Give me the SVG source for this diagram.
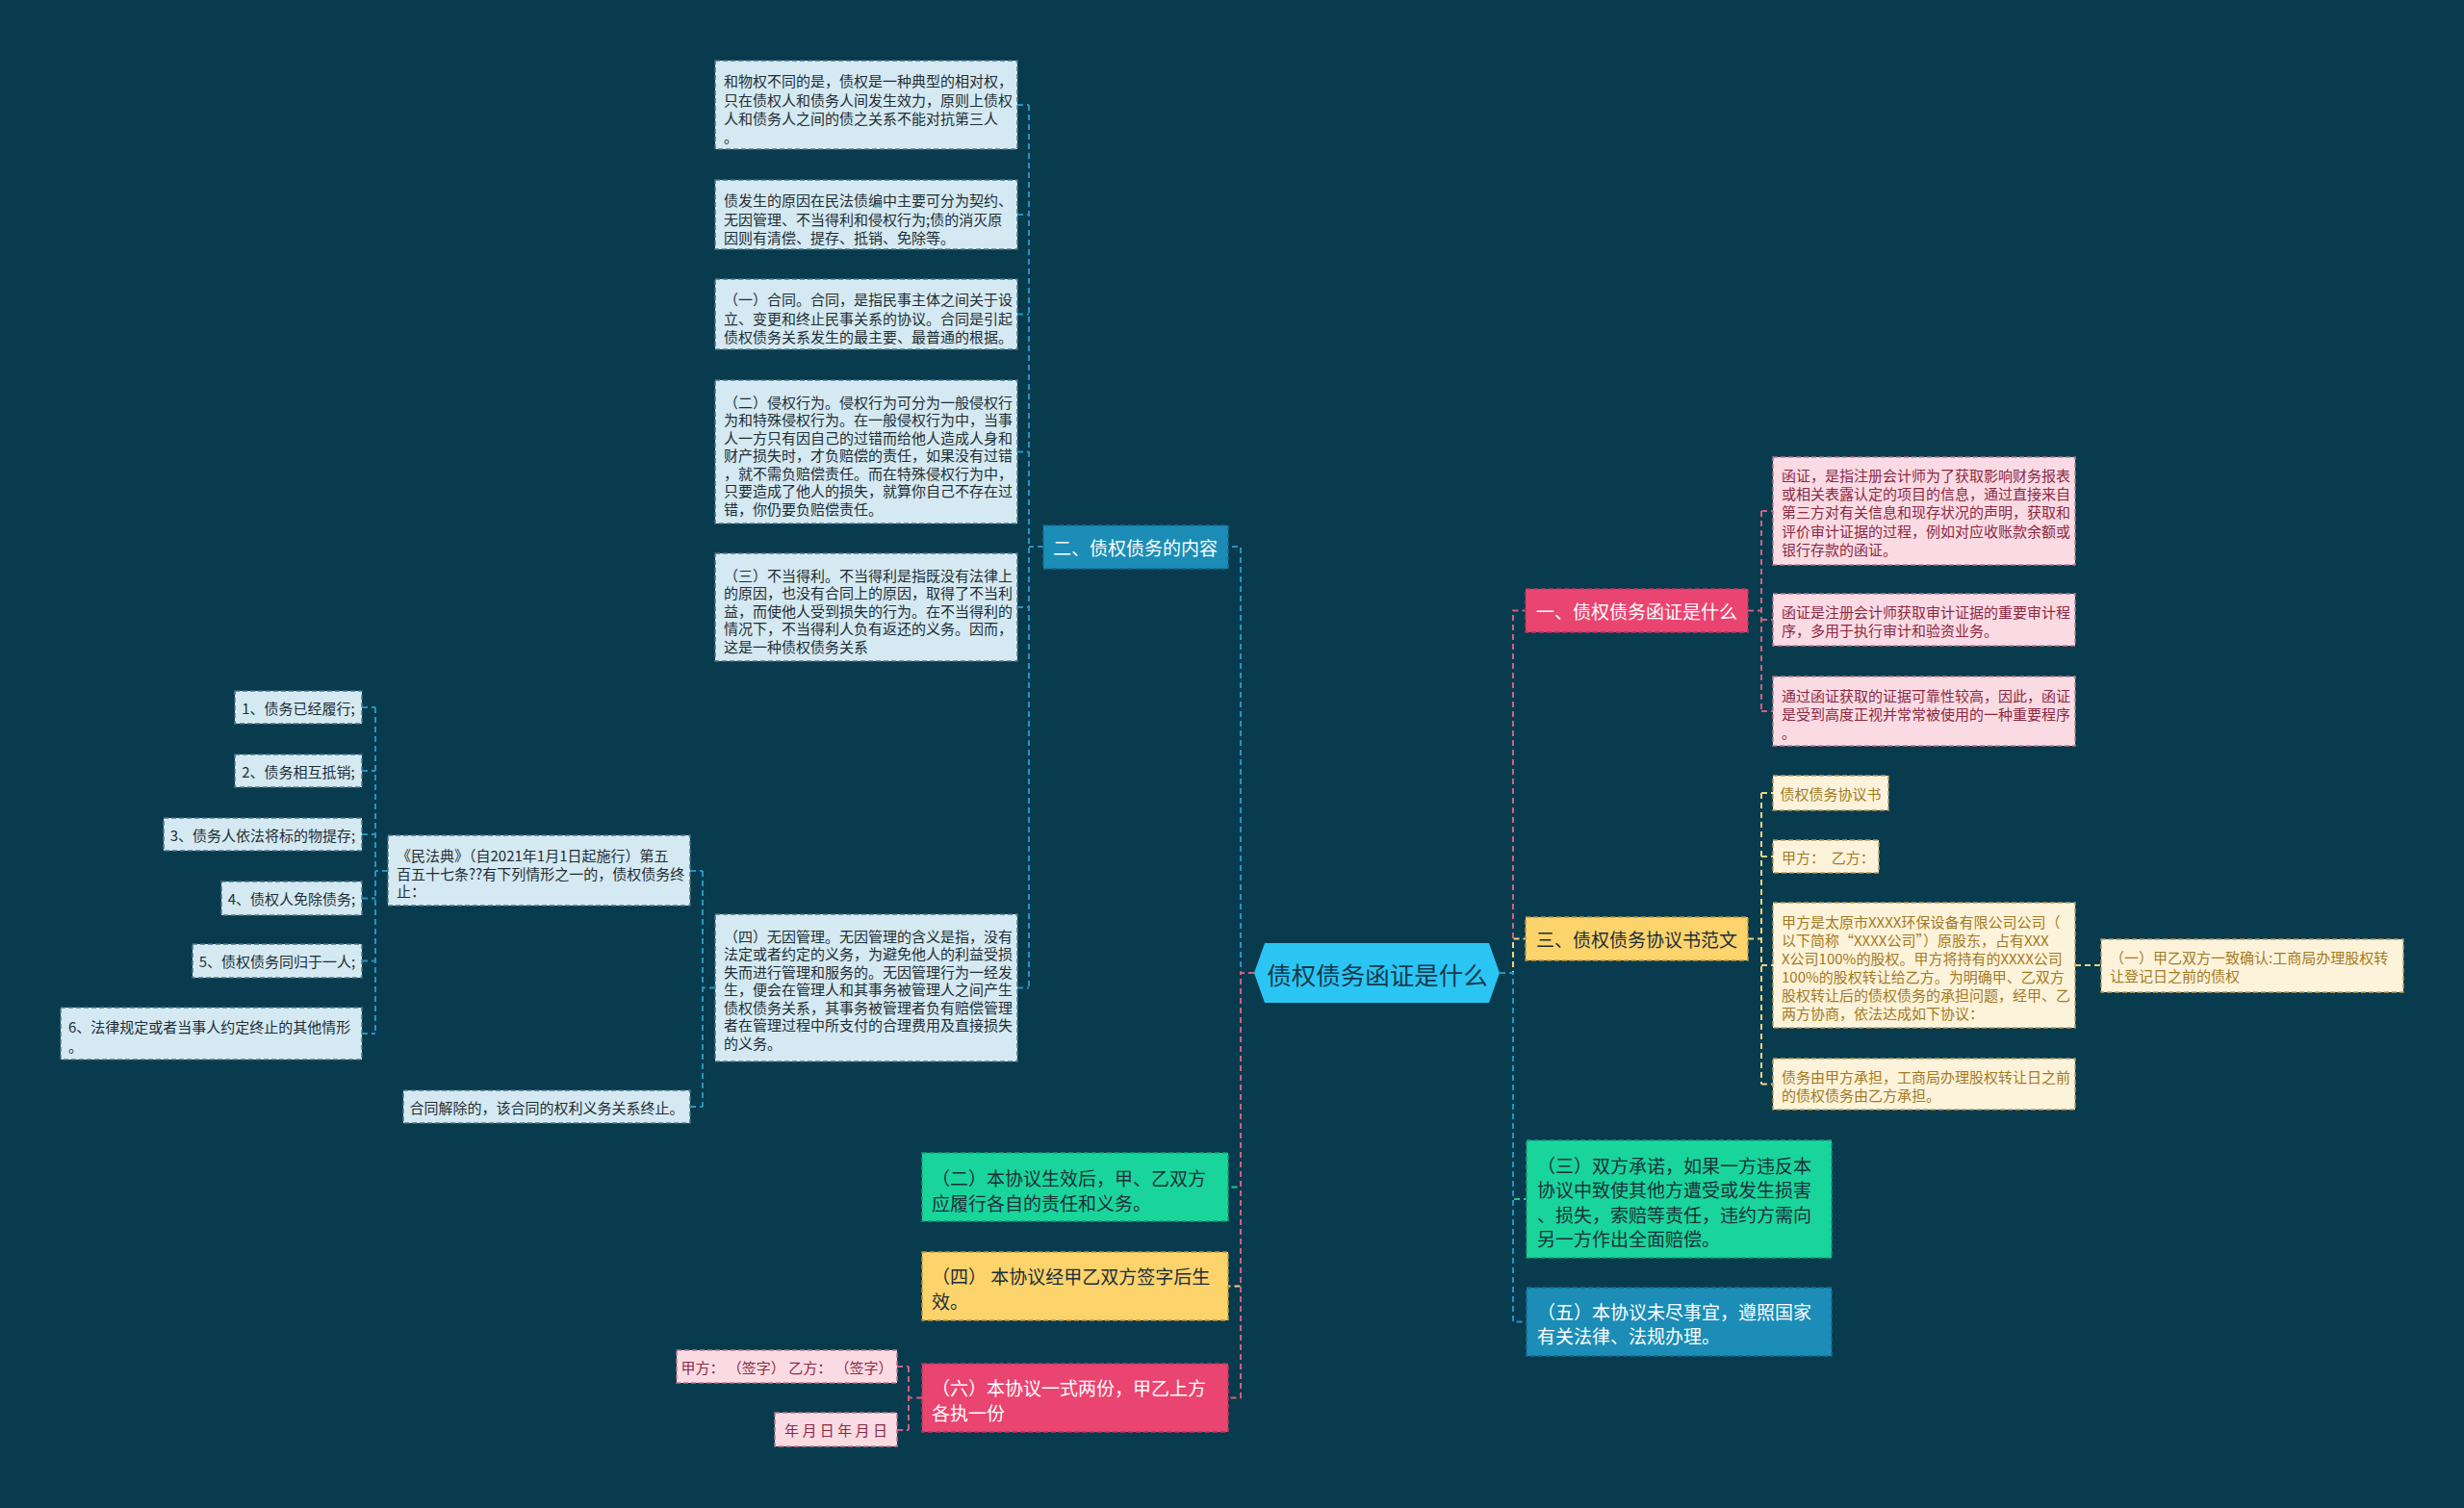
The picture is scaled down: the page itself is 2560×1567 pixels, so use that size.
<svg xmlns="http://www.w3.org/2000/svg" width="2560" height="1567" viewBox="0 0 2560 1567">
<style>
text{font-family:"Noto Sans CJK SC","Noto Sans",sans-serif;dominant-baseline:central}
.ln{fill:none;stroke-width:2;stroke-dasharray:6 4}
.lblue{stroke:#2595bd}
.lpink{stroke:#d0607f}
.lyel{stroke:#f2d27c}
.lgreen{stroke:#1ec99a}
.lb{fill:#d4e9f1;stroke:#4d7384;stroke-width:1.5;stroke-dasharray:5 3}
.lbt{fill:#1f2d35;font-size:15px}
.pk{fill:#fbdbe3;stroke:#b9788c;stroke-width:1.5;stroke-dasharray:5 3}
.pkt{fill:#8b2944;font-size:15px}
.cr{fill:#fdf3da;stroke:#b59a5e;stroke-width:1.5;stroke-dasharray:5 3}
.crt{fill:#a37a24;font-size:15px}
.nb{fill:#1b8db6;stroke:#146d8e;stroke-width:1.5;stroke-dasharray:5 3}
.np{fill:#ea4470;stroke:#b8355a;stroke-width:1.5;stroke-dasharray:5 3}
.ny{fill:#fdd36b;stroke:#b89640;stroke-width:1.5;stroke-dasharray:5 3}
.ng{fill:#19d59c;stroke:#139e76;stroke-width:1.5;stroke-dasharray:5 3}
.tw{fill:#ffffff;font-size:19px}
.td{fill:#1b2f38;font-size:19px}
</style>
<rect width="2560" height="1567" fill="#093b4f"/>

<g id="connectors">
  <path class="ln lblue" d="M1303,1011 H1289 V568 H1276"/>
  <path class="ln lblue" d="M1084,568 H1069 M1069,109 V1026.5 M1057,109 H1069 M1057,223 H1069 M1057,326.5 H1069 M1057,469.5 H1069 M1057,631 H1069 M1057,1026.5 H1069"/>
  <path class="ln lblue" d="M743,1026.5 H730 M730,905 V1150 M717,905 H730 M717,1150 H730"/>
  <path class="ln lblue" d="M403,905 H390 M390,735 V1074 M376,735 H390 M376,801 H390 M376,867 H390 M376,933.5 H390 M376,998.5 H390 M376,1074 H390"/>
  <path class="ln lgreen" d="M1303,1011 H1289 V1233.5 H1276"/>
  <path class="ln lyel" d="M1303,1011 H1289 V1336.5 H1276"/>
  <path class="ln lpink" d="M1303,1011 H1289 V1452.5 H1276"/>
  <path class="ln lpink" d="M958,1452.5 H944 M944,1420 V1486 M932,1420 H944 M932,1486 H944"/>
  <path class="ln lpink" d="M1558,1011 H1572 V634.5 H1585"/>
  <path class="ln lyel" d="M1558,1011 H1572 V975.5 H1585"/>
  <path class="ln lgreen" d="M1558,1011 H1572 V1246 H1586"/>
  <path class="ln lblue" d="M1558,1011 H1572 V1373.5 H1586"/>
  <path class="ln lpink" d="M1816,634.5 H1830 M1830,531 V739 M1830,531 H1842 M1830,644 H1842 M1830,739 H1842"/>
  <path class="ln lyel" d="M1816,975.5 H1830 M1830,824 V1126.5 M1830,824 H1842 M1830,890 H1842 M1830,1003 H1842 M1830,1126.5 H1842"/>
  <path class="ln lyel" d="M2156,1003 H2183"/>
</g>

<g id="center">
  <polygon points="1303,1011 1314,980 1547,980 1558,1011 1547,1042 1314,1042" fill="#2bc5f4"/>
  <text x="1431" y="1011" text-anchor="middle" font-size="25.5" fill="#123a4c">债权债务函证是什么</text>
</g>

<g id="n-er">
  <rect class="nb" x="1084" y="546" width="192" height="45"/>
  <text class="tw" x="1094" y="568.5">二、债权债务的内容</text>
</g>

<g id="n-b1">
  <rect class="lb" x="743" y="63" width="314" height="92"/>
  <text class="lbt" x="752" y="83">和物权不同的是，债权是一种典型的相对权，</text>
  <text class="lbt" x="752" y="103">只在债权人和债务人间发生效力，原则上债权</text>
  <text class="lbt" x="752" y="122">人和债务人之间的债之关系不能对抗第三人</text>
  <text class="lbt" x="752" y="141">。</text>
</g>
<g id="n-b2">
  <rect class="lb" x="743" y="187" width="314" height="72"/>
  <text class="lbt" x="752" y="207">债发生的原因在民法债编中主要可分为契约、</text>
  <text class="lbt" x="752" y="227">无因管理、不当得利和侵权行为;债的消灭原</text>
  <text class="lbt" x="752" y="246">因则有清偿、提存、抵销、免除等。</text>
</g>
<g id="n-b3">
  <rect class="lb" x="743" y="290" width="314" height="73"/>
  <text class="lbt" x="752" y="310">（一）合同。合同，是指民事主体之间关于设</text>
  <text class="lbt" x="752" y="330">立、变更和终止民事关系的协议。合同是引起</text>
  <text class="lbt" x="752" y="349">债权债务关系发生的最主要、最普通的根据。</text>
</g>
<g id="n-b4">
  <rect class="lb" x="743" y="395" width="314" height="149"/>
  <text class="lbt" x="752" y="417">（二）侵权行为。侵权行为可分为一般侵权行</text>
  <text class="lbt" x="752" y="435.5">为和特殊侵权行为。在一般侵权行为中，当事</text>
  <text class="lbt" x="752" y="454">人一方只有因自己的过错而给他人造成人身和</text>
  <text class="lbt" x="752" y="472.5">财产损失时，才负赔偿的责任，如果没有过错</text>
  <text class="lbt" x="752" y="491">，就不需负赔偿责任。而在特殊侵权行为中，</text>
  <text class="lbt" x="752" y="509.5">只要造成了他人的损失，就算你自己不存在过</text>
  <text class="lbt" x="752" y="528">错，你仍要负赔偿责任。</text>
</g>
<g id="n-b5">
  <rect class="lb" x="743" y="575" width="314" height="112"/>
  <text class="lbt" x="752" y="597">（三）不当得利。不当得利是指既没有法律上</text>
  <text class="lbt" x="752" y="615.5">的原因，也没有合同上的原因，取得了不当利</text>
  <text class="lbt" x="752" y="634">益，而使他人受到损失的行为。在不当得利的</text>
  <text class="lbt" x="752" y="652.5">情况下，不当得利人负有返还的义务。因而，</text>
  <text class="lbt" x="752" y="671">这是一种债权债务关系</text>
</g>
<g id="n-b6">
  <rect class="lb" x="743" y="950" width="314" height="153"/>
  <text class="lbt" x="752" y="972">（四）无因管理。无因管理的含义是指，没有</text>
  <text class="lbt" x="752" y="990.5">法定或者约定的义务，为避免他人的利益受损</text>
  <text class="lbt" x="752" y="1009">失而进行管理和服务的。无因管理行为一经发</text>
  <text class="lbt" x="752" y="1027.5">生，便会在管理人和其事务被管理人之间产生</text>
  <text class="lbt" x="752" y="1046">债权债务关系，其事务被管理者负有赔偿管理</text>
  <text class="lbt" x="752" y="1064.5">者在管理过程中所支付的合理费用及直接损失</text>
  <text class="lbt" x="752" y="1083">的义务。</text>
</g>
<g id="n-mfd">
  <rect class="lb" x="403" y="868" width="314" height="73"/>
  <text class="lbt" x="412" y="888">《民法典》（自2021年1月1日起施行）第五</text>
  <text class="lbt" x="412" y="907">百五十七条??有下列情形之一的，债权债务终</text>
  <text class="lbt" x="412" y="925">止：</text>
</g>
<g id="n-htjc">
  <rect class="lb" x="419" y="1133" width="298" height="34"/>
  <text class="lbt" x="568" y="1150" text-anchor="middle">合同解除的，该合同的权利义务关系终止。</text>
</g>
<g id="n-c1">
  <rect class="lb" x="244" y="718" width="132" height="34"/>
  <text class="lbt" x="310" y="735" text-anchor="middle">1、债务已经履行;</text>
</g>
<g id="n-c2">
  <rect class="lb" x="244" y="784" width="132" height="34"/>
  <text class="lbt" x="310" y="801" text-anchor="middle">2、债务相互抵销;</text>
</g>
<g id="n-c3">
  <rect class="lb" x="170" y="850" width="206" height="34"/>
  <text class="lbt" x="273" y="867" text-anchor="middle">3、债务人依法将标的物提存;</text>
</g>
<g id="n-c4">
  <rect class="lb" x="230" y="916" width="146" height="35"/>
  <text class="lbt" x="303" y="933.5" text-anchor="middle">4、债权人免除债务;</text>
</g>
<g id="n-c5">
  <rect class="lb" x="200" y="981" width="176" height="35"/>
  <text class="lbt" x="288" y="998.5" text-anchor="middle">5、债权债务同归于一人;</text>
</g>
<g id="n-c6">
  <rect class="lb" x="63" y="1047" width="313" height="54"/>
  <text class="lbt" x="71" y="1066">6、法律规定或者当事人约定终止的其他情形</text>
  <text class="lbt" x="71" y="1086">。</text>
</g>

<g id="n-yi">
  <rect class="np" x="1585" y="612" width="231" height="45"/>
  <text class="tw" x="1596" y="634.5">一、债权债务函证是什么</text>
</g>
<g id="n-p1">
  <rect class="pk" x="1842" y="475" width="314" height="112"/>
  <text class="pkt" x="1851" y="493">函证，是指注册会计师为了获取影响财务报表</text>
  <text class="pkt" x="1851" y="512">或相关表露认定的项目的信息，通过直接来自</text>
  <text class="pkt" x="1851" y="531.5">第三方对有关信息和现存状况的声明，获取和</text>
  <text class="pkt" x="1851" y="551">评价审计证据的过程，例如对应收账款余额或</text>
  <text class="pkt" x="1851" y="570">银行存款的函证。</text>
</g>
<g id="n-p2">
  <rect class="pk" x="1842" y="617" width="314" height="54"/>
  <text class="pkt" x="1851" y="635">函证是注册会计师获取审计证据的重要审计程</text>
  <text class="pkt" x="1851" y="654">序，多用于执行审计和验资业务。</text>
</g>
<g id="n-p3">
  <rect class="pk" x="1842" y="703" width="314" height="72"/>
  <text class="pkt" x="1851" y="722">通过函证获取的证据可靠性较高，因此，函证</text>
  <text class="pkt" x="1851" y="741">是受到高度正视并常常被使用的一种重要程序</text>
  <text class="pkt" x="1851" y="760">。</text>
</g>

<g id="n-san">
  <rect class="ny" x="1585" y="953" width="231" height="45"/>
  <text class="td" x="1596" y="975.5">三、债权债务协议书范文</text>
</g>
<g id="n-y1">
  <rect class="cr" x="1842" y="806" width="120" height="36"/>
  <text class="crt" x="1902" y="824" text-anchor="middle">债权债务协议书</text>
</g>
<g id="n-y2">
  <rect class="cr" x="1842" y="873" width="110" height="34"/>
  <text class="crt" x="1851" y="890" xml:space="preserve">甲方：  乙方：</text>
</g>
<g id="n-y3">
  <rect class="cr" x="1842" y="938" width="314" height="130"/>
  <text class="crt" x="1851" y="957">甲方是太原市XXXX环保设备有限公司公司（</text>
  <text class="crt" x="1851" y="976">以下简称“XXXX公司”）原股东，占有XXX</text>
  <text class="crt" x="1851" y="995">X公司100%的股权。甲方将持有的XXXX公司</text>
  <text class="crt" x="1851" y="1014">100%的股权转让给乙方。为明确甲、乙双方</text>
  <text class="crt" x="1851" y="1033">股权转让后的债权债务的承担问题，经甲、乙</text>
  <text class="crt" x="1851" y="1052">两方协商，依法达成如下协议：</text>
</g>
<g id="n-y4">
  <rect class="cr" x="1842" y="1100" width="314" height="53"/>
  <text class="crt" x="1851" y="1118">债务由甲方承担，工商局办理股权转让日之前</text>
  <text class="crt" x="1851" y="1137">的债权债务由乙方承担。</text>
</g>
<g id="n-y5">
  <rect class="cr" x="2183" y="976" width="314" height="55"/>
  <text class="crt" x="2192" y="994">（一）甲乙双方一致确认:工商局办理股权转</text>
  <text class="crt" x="2192" y="1013">让登记日之前的债权</text>
</g>

<g id="n-r3">
  <rect class="ng" x="1586" y="1185" width="317" height="122"/>
  <text class="td" x="1597" y="1210">（三）双方承诺，如果一方违反本</text>
  <text class="td" x="1597" y="1235.5">协议中致使其他方遭受或发生损害</text>
  <text class="td" x="1597" y="1261">、损失，索赔等责任，违约方需向</text>
  <text class="td" x="1597" y="1286.5">另一方作出全面赔偿。</text>
</g>
<g id="n-r5">
  <rect class="nb" x="1586" y="1338" width="317" height="71"/>
  <text class="tw" x="1597" y="1362">（五）本协议未尽事宜，遵照国家</text>
  <text class="tw" x="1597" y="1387">有关法律、法规办理。</text>
</g>

<g id="n-l2">
  <rect class="ng" x="958" y="1198" width="318" height="71"/>
  <text class="td" x="968" y="1223">（二）本协议生效后，甲、乙双方</text>
  <text class="td" x="968" y="1249">应履行各自的责任和义务。</text>
</g>
<g id="n-l4">
  <rect class="ny" x="958" y="1301" width="318" height="71"/>
  <text class="td" x="968" y="1325" xml:space="preserve">（四） 本协议经甲乙双方签字后生</text>
  <text class="td" x="968" y="1351">效。</text>
</g>
<g id="n-l6">
  <rect class="np" x="958" y="1417" width="318" height="71"/>
  <text class="tw" x="968" y="1441">（六）本协议一式两份，甲乙上方</text>
  <text class="tw" x="968" y="1467">各执一份</text>
</g>
<g id="n-qz">
  <rect class="pk" x="703" y="1403" width="229" height="34"/>
  <text class="pkt" x="817.5" y="1420" text-anchor="middle" xml:space="preserve">甲方： （签字） 乙方： （签字）</text>
</g>
<g id="n-date">
  <rect class="pk" x="805" y="1468" width="127" height="35"/>
  <text class="pkt" x="868.5" y="1485.5" text-anchor="middle">年 月 日 年 月 日</text>
</g>
</svg>
